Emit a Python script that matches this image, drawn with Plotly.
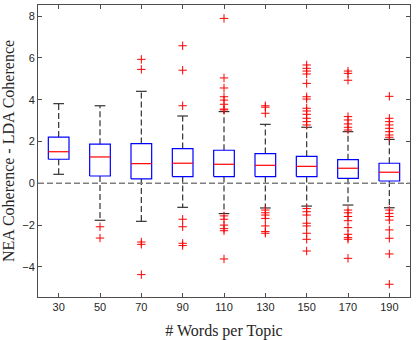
import plotly.graph_objects as go

# words per topic (categories)
labels = ['30', '50', '70', '90', '110', '130', '150', '170', '190']

# box statistics
q1 = [1.15, 0.35, 0.21, 0.32, 0.32, 0.32, 0.32, 0.24, 0.11]
med = [1.51, 1.26, 0.94, 0.96, 0.91, 0.86, 0.81, 0.72, 0.53]
q3 = [2.21, 1.87, 1.90, 1.66, 1.58, 1.42, 1.29, 1.13, 0.96]
w_lo = [0.43, -1.77, -1.82, -1.15, -1.45, -1.18, -1.09, -1.04, -1.17]
w_hi = [3.81, 3.71, 4.40, 3.22, 3.43, 2.82, 2.68, 2.47, 2.10]

# outliers per category
outliers = [
    [],
    [-2.08, -2.62],
    [5.93, 5.45, -2.81, -2.92, -4.37],
    [6.58, 5.41, 3.71, -1.72, -2.08, -2.87, -2.98],
    [7.89, 5.04, 4.56, 4.14, 3.98, 3.78, 3.51, 3.55,
     -1.56, -1.72, -2.0, -2.17, -2.27, -3.62],
    [3.71, 3.64, 3.35, -1.28, -1.41, -1.52, -1.68, -2.04, -2.31, -2.39],
    [5.66, 5.50, 5.37, 5.23, 4.78, 4.14, 4.03, 3.59, 3.46, 3.30, 3.11,
     2.95, 2.79, -1.21, -1.36, -1.52, -1.91, -2.04, -2.39, -2.68, -3.24],
    [5.37, 5.26, 4.93, 3.19, 3.03, 2.84, 2.68, 2.55,
     -1.28, -1.41, -1.59, -1.79, -2.12, -2.44, -2.60, -2.68, -3.59],
    [4.16, 3.11, 2.95, 2.79, 2.63, 2.47, 2.31, 2.20,
     -1.28, -1.44, -1.59, -1.76, -2.23, -2.63, -3.38, -4.83],
]

pos = list(range(1, len(labels) + 1))
half = 0.25   # half box width
cap = 0.13    # half cap width

box_x, box_y = [], []
med_x, med_y = [], []
wh_x, wh_y = [], []
cap_x, cap_y = [], []
out_x, out_y = [], []
for i, p in enumerate(pos):
    box_x += [p - half, p + half, p + half, p - half, p - half, None]
    box_y += [q1[i], q1[i], q3[i], q3[i], q1[i], None]
    med_x += [p - half, p + half, None]
    med_y += [med[i], med[i], None]
    wh_x += [p, p, None, p, p, None]
    wh_y += [q3[i], w_hi[i], None, q1[i], w_lo[i], None]
    cap_x += [p - cap, p + cap, None, p - cap, p + cap, None]
    cap_y += [w_hi[i], w_hi[i], None, w_lo[i], w_lo[i], None]
    out_x += [p] * len(outliers[i])
    out_y += outliers[i]

fig = go.Figure()
fig.add_trace(go.Scatter(x=wh_x, y=wh_y, mode='lines',
                         line=dict(color='#333333', width=1.2, dash='6px,3px')))
fig.add_trace(go.Scatter(x=cap_x, y=cap_y, mode='lines',
                         line=dict(color='#333333', width=1.2)))
fig.add_trace(go.Scatter(x=box_x, y=box_y, mode='lines',
                         line=dict(color='#0000ff', width=1.2)))
fig.add_trace(go.Scatter(x=med_x, y=med_y, mode='lines',
                         line=dict(color='#ff0000', width=1.2)))
fig.add_trace(go.Scatter(x=out_x, y=out_y, mode='markers',
                         marker=dict(symbol='cross-thin', size=6,
                                     line=dict(color='#ff0000', width=1))))

# zero reference line
fig.add_shape(type='line', xref='paper', x0=0, x1=1, y0=0, y1=0,
              line=dict(color='#7f7f7f', width=1.5, dash='6px,3px'))

title_font = dict(family='Liberation Serif, Times New Roman', size=16, color='#262626')

fig.update_layout(
    width=416, height=340,
    margin=dict(l=38, r=6, t=5, b=43),
    paper_bgcolor='white', plot_bgcolor='white',
    showlegend=False,
    font=dict(family='Liberation Sans, Arial', size=11, color='#262626'),
    xaxis=dict(range=[0.5, 9.5], tickvals=pos, ticktext=labels,
               showgrid=False, zeroline=False, automargin=False,
               showline=True, linecolor='#4d4d4d', linewidth=1, mirror='ticks',
               ticks='inside', ticklen=4, tickcolor='#4d4d4d',
               title=dict(text='# Words per Topic', font=title_font)),
    yaxis=dict(range=[-5.44, 8.53], tickvals=[-4, -2, 0, 2, 4, 6, 8],
               showgrid=False, zeroline=False, automargin=False,
               showline=True, linecolor='#4d4d4d', linewidth=1, mirror='ticks',
               ticks='inside', ticklen=4, tickcolor='#4d4d4d',
               title=dict(text='NEA Coherence - LDA Coherence', font=title_font)),
)

# the page body has a default 8px margin; drop it so the figure fills the window
fig.write_html("out.html", config={'displayModeBar': False},
               post_script="document.body.style.margin = '0';")
